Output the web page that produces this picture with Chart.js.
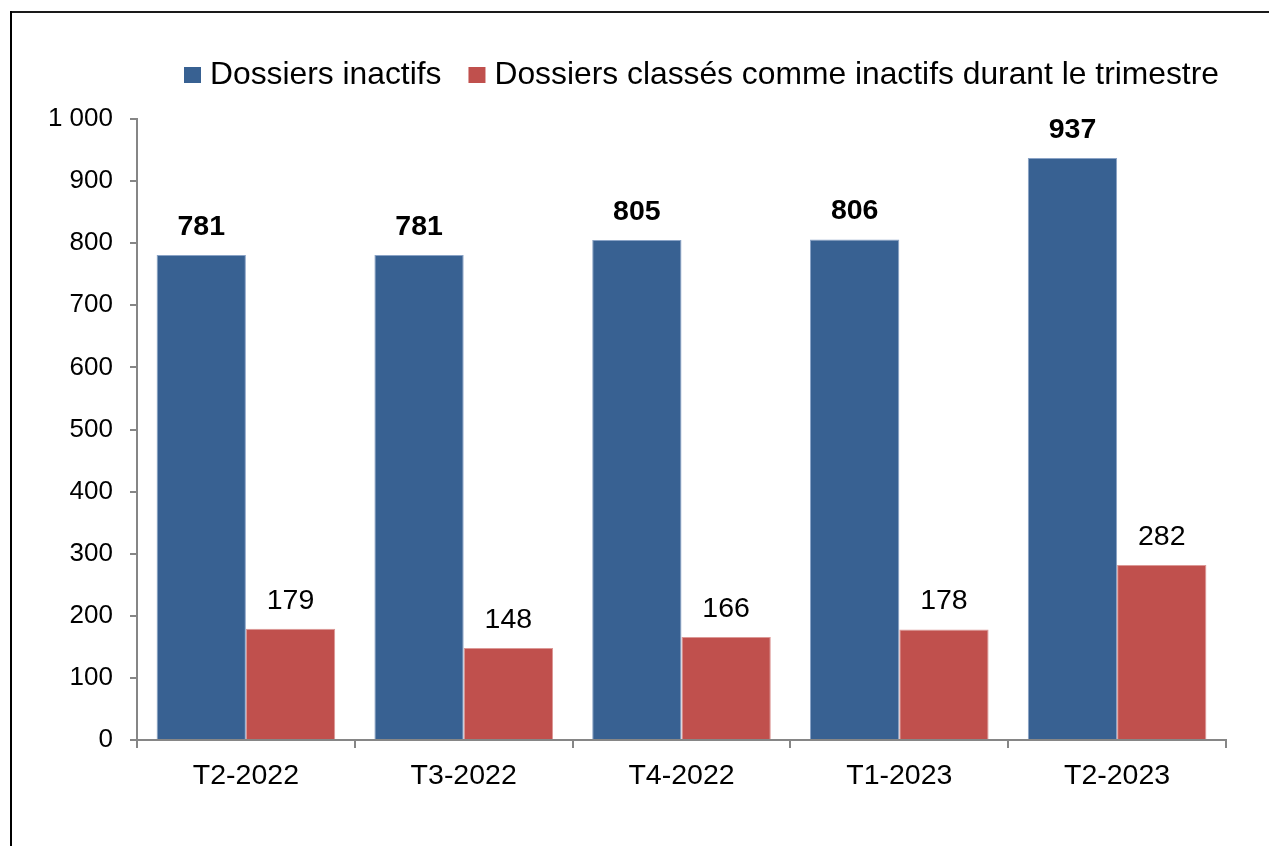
<!DOCTYPE html>
<html><head><meta charset="utf-8">
<script src="https://cdn.jsdelivr.net/npm/chart.js@4/dist/chart.umd.min.js"></script>
<style>html,body{margin:0;padding:0;background:#fff;overflow:hidden;} #wrap{width:1269px;height:846px;position:relative;}</style>
</head><body><div id="wrap"><canvas id="c" width="1269" height="846"></canvas></div>
<script>
const categories = ['T2-2022', 'T3-2022', 'T4-2022', 'T1-2023', 'T2-2023'];
const inactifs = [781, 781, 805, 806, 937];
const classes = [179, 148, 166, 178, 282];
const seriesNames = ['Dossiers inactifs', 'Dossiers classés comme inactifs durant le trimestre'];
const yTickLabels = ['0', '100', '200', '300', '400', '500', '600', '700', '800', '900', '1 000'];

const FONT = '"Liberation Sans", Arial, sans-serif';
const AXIS = '#868686';

const frame = {
  id: 'frame',
  beforeDraw(chart) {
    const ctx = chart.ctx;
    ctx.save();
    ctx.fillStyle = '#fff';
    ctx.fillRect(0, 0, chart.width, chart.height);
    ctx.fillStyle = '#1a1a1a';
    ctx.fillRect(10, 11, chart.width - 10, 2);
    ctx.fillStyle = '#000';
    ctx.fillRect(10, 11, 2, chart.height - 11);
    ctx.restore();
  }
};

const customLegend = {
  id: 'customLegend',
  afterDraw(chart) {
    const ctx = chart.ctx;
    ctx.save();
    ctx.font = '31.8px ' + FONT;
    ctx.textBaseline = 'alphabetic';
    ctx.textAlign = 'left';
    let x = 184;
    chart.data.datasets.forEach((ds, i) => {
      ctx.fillStyle = ds.backgroundColor;
      ctx.fillRect(x, 67, 17, 16);
      x += 17 + 9;
      ctx.fillStyle = '#000';
      ctx.fillText(ds.label, x, 84);
      x += ctx.measureText(ds.label).width + 27;
    });
    ctx.restore();
  }
};

const valueLabels = {
  id: 'valueLabels',
  afterDatasetsDraw(chart) {
    const ctx = chart.ctx;
    chart.data.datasets.forEach((ds, di) => {
      const meta = chart.getDatasetMeta(di);
      meta.data.forEach((bar, i) => {
        ctx.save();
        ctx.font = (di === 0 ? 'bold ' : '') + '28.5px ' + FONT;
        ctx.fillStyle = '#000';
        ctx.textAlign = 'center';
        ctx.textBaseline = 'middle';
        ctx.fillText(String(ds.data[i]), bar.x, bar.y - 28);
        ctx.restore();
      });
    });
  }
};

new Chart(document.getElementById('c'), {
  type: 'bar',
  data: {
    labels: categories,
    datasets: [
      { label: seriesNames[0], data: inactifs, backgroundColor: '#386192', borderColor: '#8aa3c6', borderWidth: 1, borderSkipped: 'bottom' },
      { label: seriesNames[1], data: classes, backgroundColor: '#C0504D', borderColor: '#dc9896', borderWidth: 1, borderSkipped: 'bottom' }
    ]
  },
  options: {
    responsive: false,
    animation: false,
    devicePixelRatio: 1,
    layout: { padding: { left: 0, right: 43, top: 119, bottom: 0 } },
    datasets: { bar: { categoryPercentage: 0.82, barPercentage: 1.0 } },
    plugins: { legend: { display: false }, tooltip: { enabled: false } },
    scales: {
      x: {
        grid: { offset: true, drawOnChartArea: false, drawTicks: true, tickLength: 8, color: AXIS, lineWidth: 2 },
        border: { color: AXIS, width: 2 },
        ticks: { font: { size: 28.5, family: FONT }, color: '#000', padding: 11, maxRotation: 0 },
        afterFit: s => { s.height = 106; }
      },
      y: {
        min: 0, max: 1000,
        ticks: { stepSize: 100, font: { size: 26, family: FONT }, color: '#000', padding: 17,
          callback: (v, i) => yTickLabels[i] },
        grid: { drawOnChartArea: false, drawTicks: true, tickLength: 7, color: AXIS, lineWidth: 2 },
        border: { color: AXIS, width: 2 },
        afterFit: s => { s.width = 137; }
      }
    }
  },
  plugins: [frame, valueLabels, customLegend]
});
</script>
</body></html>
